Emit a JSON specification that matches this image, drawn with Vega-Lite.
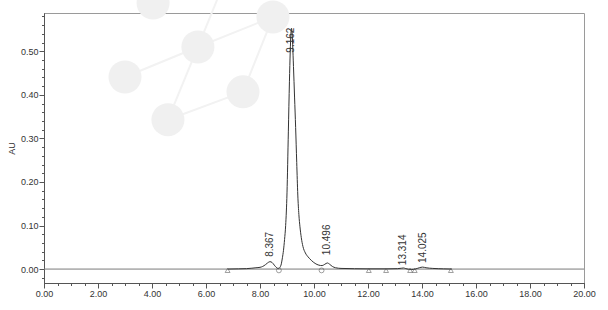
{
  "$schema": "https://vega.github.io/schema/vega-lite/v6.json",
  "width": 540,
  "height": 270,
  "autosize": {"type": "none"},
  "padding": {"left": 44, "top": 13, "right": 24, "bottom": 27},
  "background": "white",
  "config": {
    "view": {"stroke": "#9a9a9a", "strokeWidth": 1},
    "font": "Liberation Sans",
    "axis": {"grid": false, "domainColor": "#555", "tickColor": "#555", "labelColor": "#333", "labelFont": "Liberation Sans", "titleFont": "Liberation Sans"}
  },
  "resolve": {"axis": {"x": "independent", "y": "independent"}},
  "datasets": {
    "trace": [
      {"t": 6.8, "au": 0}, {"t": 7.2, "au": 0.0005}, {"t": 7.5, "au": 0.001}, {"t": 7.7, "au": 0.002},
      {"t": 7.85, "au": 0.003}, {"t": 8.0, "au": 0.004}, {"t": 8.1, "au": 0.006}, {"t": 8.2, "au": 0.010},
      {"t": 8.28, "au": 0.014}, {"t": 8.367, "au": 0.017}, {"t": 8.45, "au": 0.015}, {"t": 8.53, "au": 0.009},
      {"t": 8.6, "au": 0.004}, {"t": 8.68, "au": 0.001}, {"t": 8.74, "au": 0.004}, {"t": 8.79, "au": 0.012},
      {"t": 8.83, "au": 0.026}, {"t": 8.87, "au": 0.043}, {"t": 8.91, "au": 0.068}, {"t": 8.95, "au": 0.100},
      {"t": 9.0, "au": 0.175}, {"t": 9.05, "au": 0.315}, {"t": 9.09, "au": 0.43}, {"t": 9.12, "au": 0.50},
      {"t": 9.145, "au": 0.540}, {"t": 9.165, "au": 0.553}, {"t": 9.185, "au": 0.545}, {"t": 9.21, "au": 0.515},
      {"t": 9.24, "au": 0.465}, {"t": 9.28, "au": 0.395}, {"t": 9.32, "au": 0.325}, {"t": 9.36, "au": 0.245},
      {"t": 9.40, "au": 0.170}, {"t": 9.44, "au": 0.125}, {"t": 9.48, "au": 0.097}, {"t": 9.53, "au": 0.072},
      {"t": 9.59, "au": 0.052}, {"t": 9.68, "au": 0.037}, {"t": 9.78, "au": 0.028}, {"t": 9.9, "au": 0.020},
      {"t": 10.04, "au": 0.013}, {"t": 10.18, "au": 0.009}, {"t": 10.3, "au": 0.008}, {"t": 10.4, "au": 0.011},
      {"t": 10.496, "au": 0.014}, {"t": 10.58, "au": 0.011}, {"t": 10.68, "au": 0.006}, {"t": 10.8, "au": 0.003},
      {"t": 11.0, "au": 0.0015}, {"t": 11.5, "au": 0.0008}, {"t": 12.0, "au": 0.0005}, {"t": 12.7, "au": 0.0005},
      {"t": 13.1, "au": 0.001}, {"t": 13.25, "au": 0.002}, {"t": 13.314, "au": 0.0025}, {"t": 13.4, "au": 0.001},
      {"t": 13.5, "au": -0.0005}, {"t": 13.6, "au": -0.001}, {"t": 13.75, "au": 0.0}, {"t": 13.9, "au": 0.003},
      {"t": 14.025, "au": 0.0045}, {"t": 14.15, "au": 0.003}, {"t": 14.4, "au": 0.0015}, {"t": 14.8, "au": 0.0005},
      {"t": 15.1, "au": 0}
    ],
    "peaks": [
      {"rt": "8.367", "t": 8.367, "ly": 0.028},
      {"rt": "9.162", "t": 9.165, "ly": 0.497},
      {"rt": "10.496", "t": 10.496, "ly": 0.032},
      {"rt": "13.314", "t": 13.314, "ly": 0.009},
      {"rt": "14.025", "t": 14.025, "ly": 0.014}
    ],
    "marks": [
      {"t": 6.8, "kind": "start", "au": -0.003},
      {"t": 8.7, "kind": "drop", "au": -0.003},
      {"t": 10.28, "kind": "drop", "au": -0.003},
      {"t": 12.03, "kind": "start", "au": -0.003},
      {"t": 12.67, "kind": "start", "au": -0.003},
      {"t": 13.56, "kind": "start", "au": -0.003},
      {"t": 13.73, "kind": "start", "au": -0.003},
      {"t": 15.07, "kind": "start", "au": -0.003}
    ],
    "wmLines": [
      {"x1": 3.0, "y1": 0.441, "x2": 5.70, "y2": 0.510},
      {"x1": 5.70, "y1": 0.510, "x2": 8.48, "y2": 0.579},
      {"x1": 6.41, "y1": 0.618, "x2": 5.70, "y2": 0.510},
      {"x1": 5.70, "y1": 0.510, "x2": 4.59, "y2": 0.343},
      {"x1": 4.59, "y1": 0.343, "x2": 7.37, "y2": 0.407},
      {"x1": 7.37, "y1": 0.407, "x2": 8.48, "y2": 0.579}
    ],
    "wmCircles": [
      {"x": 4.04, "y": 0.611}, {"x": 5.70, "y": 0.510}, {"x": 3.0, "y": 0.441},
      {"x": 7.37, "y": 0.407}, {"x": 4.59, "y": 0.343}, {"x": 8.48, "y": 0.579}
    ]
  },
  "layer": [
    {
      "data": {"name": "wmLines"},
      "mark": {"type": "rule", "color": "#f2f2f2", "strokeWidth": 2, "clip": false},
      "encoding": {
        "x": {"field": "x1", "type": "quantitative", "scale": {"domain": [0, 20], "nice": false, "zero": false}, "axis": null},
        "y": {"field": "y1", "type": "quantitative", "scale": {"domain": [-0.032, 0.588], "nice": false, "zero": false}, "axis": null},
        "x2": {"field": "x2"},
        "y2": {"field": "y2"}
      }
    },
    {
      "data": {"name": "wmCircles"},
      "mark": {"type": "point", "shape": "circle", "filled": true, "color": "#f0f0f0", "opacity": 1, "size": 1090, "clip": false},
      "encoding": {
        "x": {"field": "x", "type": "quantitative", "axis": null},
        "y": {"field": "y", "type": "quantitative", "axis": null}
      }
    },
    {
      "data": {"values": [{"base": 0}]},
      "mark": {"type": "rule", "color": "#7a7a7a", "strokeWidth": 1},
      "encoding": {
        "y": {"field": "base", "type": "quantitative", "axis": null}
      }
    },
    {
      "data": {"name": "trace"},
      "mark": {"type": "line", "color": "#333333", "strokeWidth": 1, "interpolate": "monotone"},
      "encoding": {
        "x": {
          "field": "t", "type": "quantitative",
          "axis": {"orient": "bottom", "values": [0, 2, 4, 6, 8, 10, 12, 14, 16, 18, 20], "format": ".2f", "title": null,
                   "tickSize": 5, "labelPadding": 1, "labelFontSize": 9, "labelFlush": false, "labelOverlap": false}
        },
        "y": {
          "field": "au", "type": "quantitative",
          "axis": {"orient": "left", "values": [0, 0.1, 0.2, 0.3, 0.4, 0.5], "format": ".2f", "title": "AU",
                   "titleFontSize": 9, "titleFontWeight": "normal", "titleColor": "#333", "titlePadding": 4,
                   "tickSize": 5, "labelPadding": 1, "labelFontSize": 9, "labelFlush": false, "labelOverlap": false}
        }
      }
    },
    {
      "data": {"name": "marks"},
      "mark": {"type": "point", "filled": false, "color": "#555555", "strokeWidth": 0.8, "size": 24},
      "encoding": {
        "x": {
          "field": "t", "type": "quantitative",
          "axis": {"orient": "bottom", "values": [0, 0.5, 1, 1.5, 2, 2.5, 3, 3.5, 4, 4.5, 5, 5.5, 6, 6.5, 7, 7.5, 8, 8.5, 9, 9.5, 10, 10.5, 11, 11.5, 12, 12.5, 13, 13.5, 14, 14.5, 15, 15.5, 16, 16.5, 17, 17.5, 18, 18.5, 19, 19.5, 20],
                   "labels": false, "title": null, "tickSize": 2.5}
        },
        "y": {
          "field": "au", "type": "quantitative",
          "axis": {"orient": "left", "values": [-0.02, 0, 0.02, 0.04, 0.06, 0.08, 0.1, 0.12, 0.14, 0.16, 0.18, 0.2, 0.22, 0.24, 0.26, 0.28, 0.3, 0.32, 0.34, 0.36, 0.38, 0.4, 0.42, 0.44, 0.46, 0.48, 0.5, 0.52, 0.54, 0.56, 0.58],
                   "labels": false, "title": null, "tickSize": 2.5}
        },
        "shape": {
          "field": "kind", "type": "nominal",
          "scale": {"domain": ["start", "drop"], "range": ["triangle-up", "circle"]},
          "legend": null
        }
      }
    },
    {
      "data": {"name": "peaks"},
      "mark": {"type": "text", "angle": 270, "align": "left", "baseline": "middle", "fontSize": 10, "color": "#333333", "font": "Liberation Sans"},
      "encoding": {
        "x": {"field": "t", "type": "quantitative", "axis": null},
        "y": {"field": "ly", "type": "quantitative", "axis": null},
        "text": {"field": "rt", "type": "nominal"}
      }
    }
  ]
}
